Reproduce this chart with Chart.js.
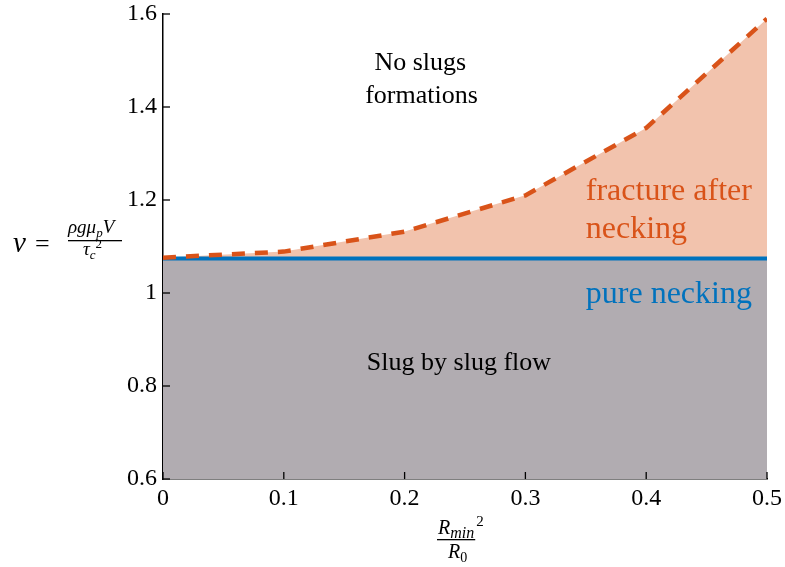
<!DOCTYPE html>
<html>
<head>
<meta charset="utf-8">
<script src="https://cdn.jsdelivr.net/npm/chart.js@4.4.0/dist/chart.umd.min.js"></script>
<style>
  html, body { margin: 0; padding: 0; background: #ffffff; }
  #wrap { width: 785px; height: 567px; }
</style>
</head>
<body>
<div id="wrap"><canvas id="myChart" width="785" height="567"></canvas></div>
<script>
// Data
const xValues = [0, 0.1, 0.2, 0.3, 0.4, 0.5];
const pureNecking = [1.074, 1.074, 1.074, 1.074, 1.074, 1.074];
const fractureLimit = [1.076, 1.089, 1.132, 1.21, 1.355, 1.59];
const xTicks = [0, 0.1, 0.2, 0.3, 0.4, 0.5];
const yTicks = [0.6, 0.8, 1, 1.2, 1.4, 1.6];

const SERIF = '"Liberation Serif", "DejaVu Serif", serif';

const toPoints = (ys) => xValues.map((x, i) => ({x: x, y: ys[i]}));

// draw a run of math pieces, each with its own font and baseline shift
const drawMath = (ctx, x, y, parts) => {
    parts.forEach(p => {
        ctx.font = (p.italic ? 'italic ' : '') + p.size + 'px ' + SERIF;
        ctx.fillText(p.t, x + (p.dx || 0), y + (p.dy || 0));
        x += ctx.measureText(p.t).width + (p.dx || 0);
    });
    return x;
};

// inward tick marks + text annotations + math axis labels
const decorations = {
    id: 'decorations',
    afterDatasetsDraw: (chart) => {
        const {ctx, scales} = chart;
        const xs = scales.x, ys = scales.y;
        ctx.save();
        ctx.strokeStyle = '#000';
        ctx.lineWidth = 1.3;
        xTicks.forEach(v => {
            const px = xs.getPixelForValue(v);
            ctx.beginPath();
            ctx.moveTo(px, ys.bottom);
            ctx.lineTo(px, ys.bottom - 7);
            ctx.stroke();
        });
        yTicks.forEach(v => {
            const py = ys.getPixelForValue(v);
            ctx.beginPath();
            ctx.moveTo(xs.left, py);
            ctx.lineTo(xs.left + 7, py);
            ctx.stroke();
        });

        // region labels
        ctx.textBaseline = 'middle';
        ctx.textAlign = 'center';
        ctx.fillStyle = '#000';
        ctx.font = '26px ' + SERIF;
        ctx.fillText('No slugs', xs.getPixelForValue(0.213), ys.getPixelForValue(1.495));
        ctx.fillText('formations', xs.getPixelForValue(0.214), ys.getPixelForValue(1.424));
        ctx.fillText('Slug by slug flow', xs.getPixelForValue(0.245), ys.getPixelForValue(0.85));

        ctx.textAlign = 'left';
        ctx.fillStyle = '#d95319';
        ctx.font = '32px ' + SERIF;
        ctx.fillText('fracture after', xs.getPixelForValue(0.350), ys.getPixelForValue(1.218));
        ctx.fillText('necking', xs.getPixelForValue(0.350), ys.getPixelForValue(1.136));
        ctx.fillStyle = '#0072bd';
        ctx.fillText('pure necking', xs.getPixelForValue(0.350), ys.getPixelForValue(0.996));

        // y axis label: nu = rho g mu_p V / tau_c^2
        ctx.fillStyle = '#000';
        ctx.textAlign = 'left';
        ctx.textBaseline = 'alphabetic';
        drawMath(ctx, 13, 252, [{t: '\u03bd', italic: true, size: 29}]);
        drawMath(ctx, 35, 252, [{t: '=', size: 26}]);
        drawMath(ctx, 68, 233, [
            {t: '\u03c1g\u03bc', italic: true, size: 19},
            {t: 'p', italic: true, size: 13, dy: 4},
            {t: 'V', italic: true, size: 19}
        ]);
        ctx.fillRect(68, 240, 54, 1.3);
        drawMath(ctx, 83, 255, [
            {t: '\u03c4', italic: true, size: 19},
            {t: 'c', italic: true, size: 13, dy: 4},
            {t: '2', size: 13, dy: -7}
        ]);

        // x axis label: R_min / R_0 ^2
        const numEnd = drawMath(ctx, 438, 534, [
            {t: 'R', italic: true, size: 20},
            {t: 'min', italic: true, size: 16, dy: 4}
        ]);
        ctx.fillRect(437, 539, numEnd - 437 + 1, 1.3);
        drawMath(ctx, 448, 558, [
            {t: 'R', italic: true, size: 20},
            {t: '0', size: 14, dy: 4}
        ]);
        drawMath(ctx, numEnd + 2, 526, [{t: '2', size: 15}]);
        ctx.restore();
    }
};

// fix the plot box so tick labels do not push it around
const noScalePadding = (scale) => {
    scale.paddingLeft = 0;
    scale.paddingRight = 0;
    scale.paddingTop = 0;
    scale.paddingBottom = 0;
};

var ctx = document.getElementById('myChart').getContext('2d');
var myChart = new Chart(ctx, {
    type: 'line',
    data: {
        datasets: [{
            // grey region below pure necking
            label: 'Slug by slug flow',
            data: toPoints(pureNecking),
            borderWidth: 0,
            backgroundColor: '#b1acb1',
            fill: 'start',
            pointRadius: 0,
            order: 3
        }, {
            label: 'fracture after necking',
            data: toPoints(fractureLimit),
            borderColor: '#d95319',
            borderWidth: 4.5,
            borderDash: [13, 10],
            backgroundColor: '#f2c3ad',
            fill: 0,
            tension: 0,
            pointRadius: 0,
            order: 1
        }, {
            label: 'pure necking',
            data: toPoints(pureNecking),
            borderColor: '#0072bd',
            borderWidth: 4,
            fill: false,
            pointRadius: 0,
            order: 2
        }]
    },
    options: {
        responsive: false,
        animation: false,
        layout: { padding: { left: 0, right: 18, top: 14, bottom: 0 } },
        plugins: {
            legend: { display: false },
            tooltip: { enabled: false },
            filler: { drawTime: 'beforeDatasetsDraw' }
        },
        scales: {
            x: {
                type: 'linear',
                min: 0,
                max: 0.5,
                afterBuildTicks: (scale) => { scale.ticks = xTicks.map(v => ({value: v})); },
                afterFit: (scale) => { scale.height = 88; noScalePadding(scale); },
                grid: { display: false, drawTicks: false },
                border: { display: true, color: '#000', width: 1.5 },
                ticks: {
                    color: '#000',
                    padding: 5,
                    maxRotation: 0,
                    font: { family: SERIF, size: 24 },
                    callback: (v) => v === 0 ? '0' : String(Number(v.toFixed(1)))
                }
            },
            y: {
                type: 'linear',
                min: 0.6,
                max: 1.6,
                afterBuildTicks: (scale) => { scale.ticks = yTicks.map(v => ({value: v})); },
                afterFit: (scale) => { scale.width = 163; noScalePadding(scale); },
                grid: { display: false, drawTicks: false },
                border: { display: true, color: '#000', width: 1.5 },
                ticks: {
                    color: '#000',
                    padding: 6,
                    font: { family: SERIF, size: 24 },
                    callback: (v) => String(Number(v.toFixed(1)))
                }
            }
        }
    },
    plugins: [decorations]
});
</script>
</body>
</html>
